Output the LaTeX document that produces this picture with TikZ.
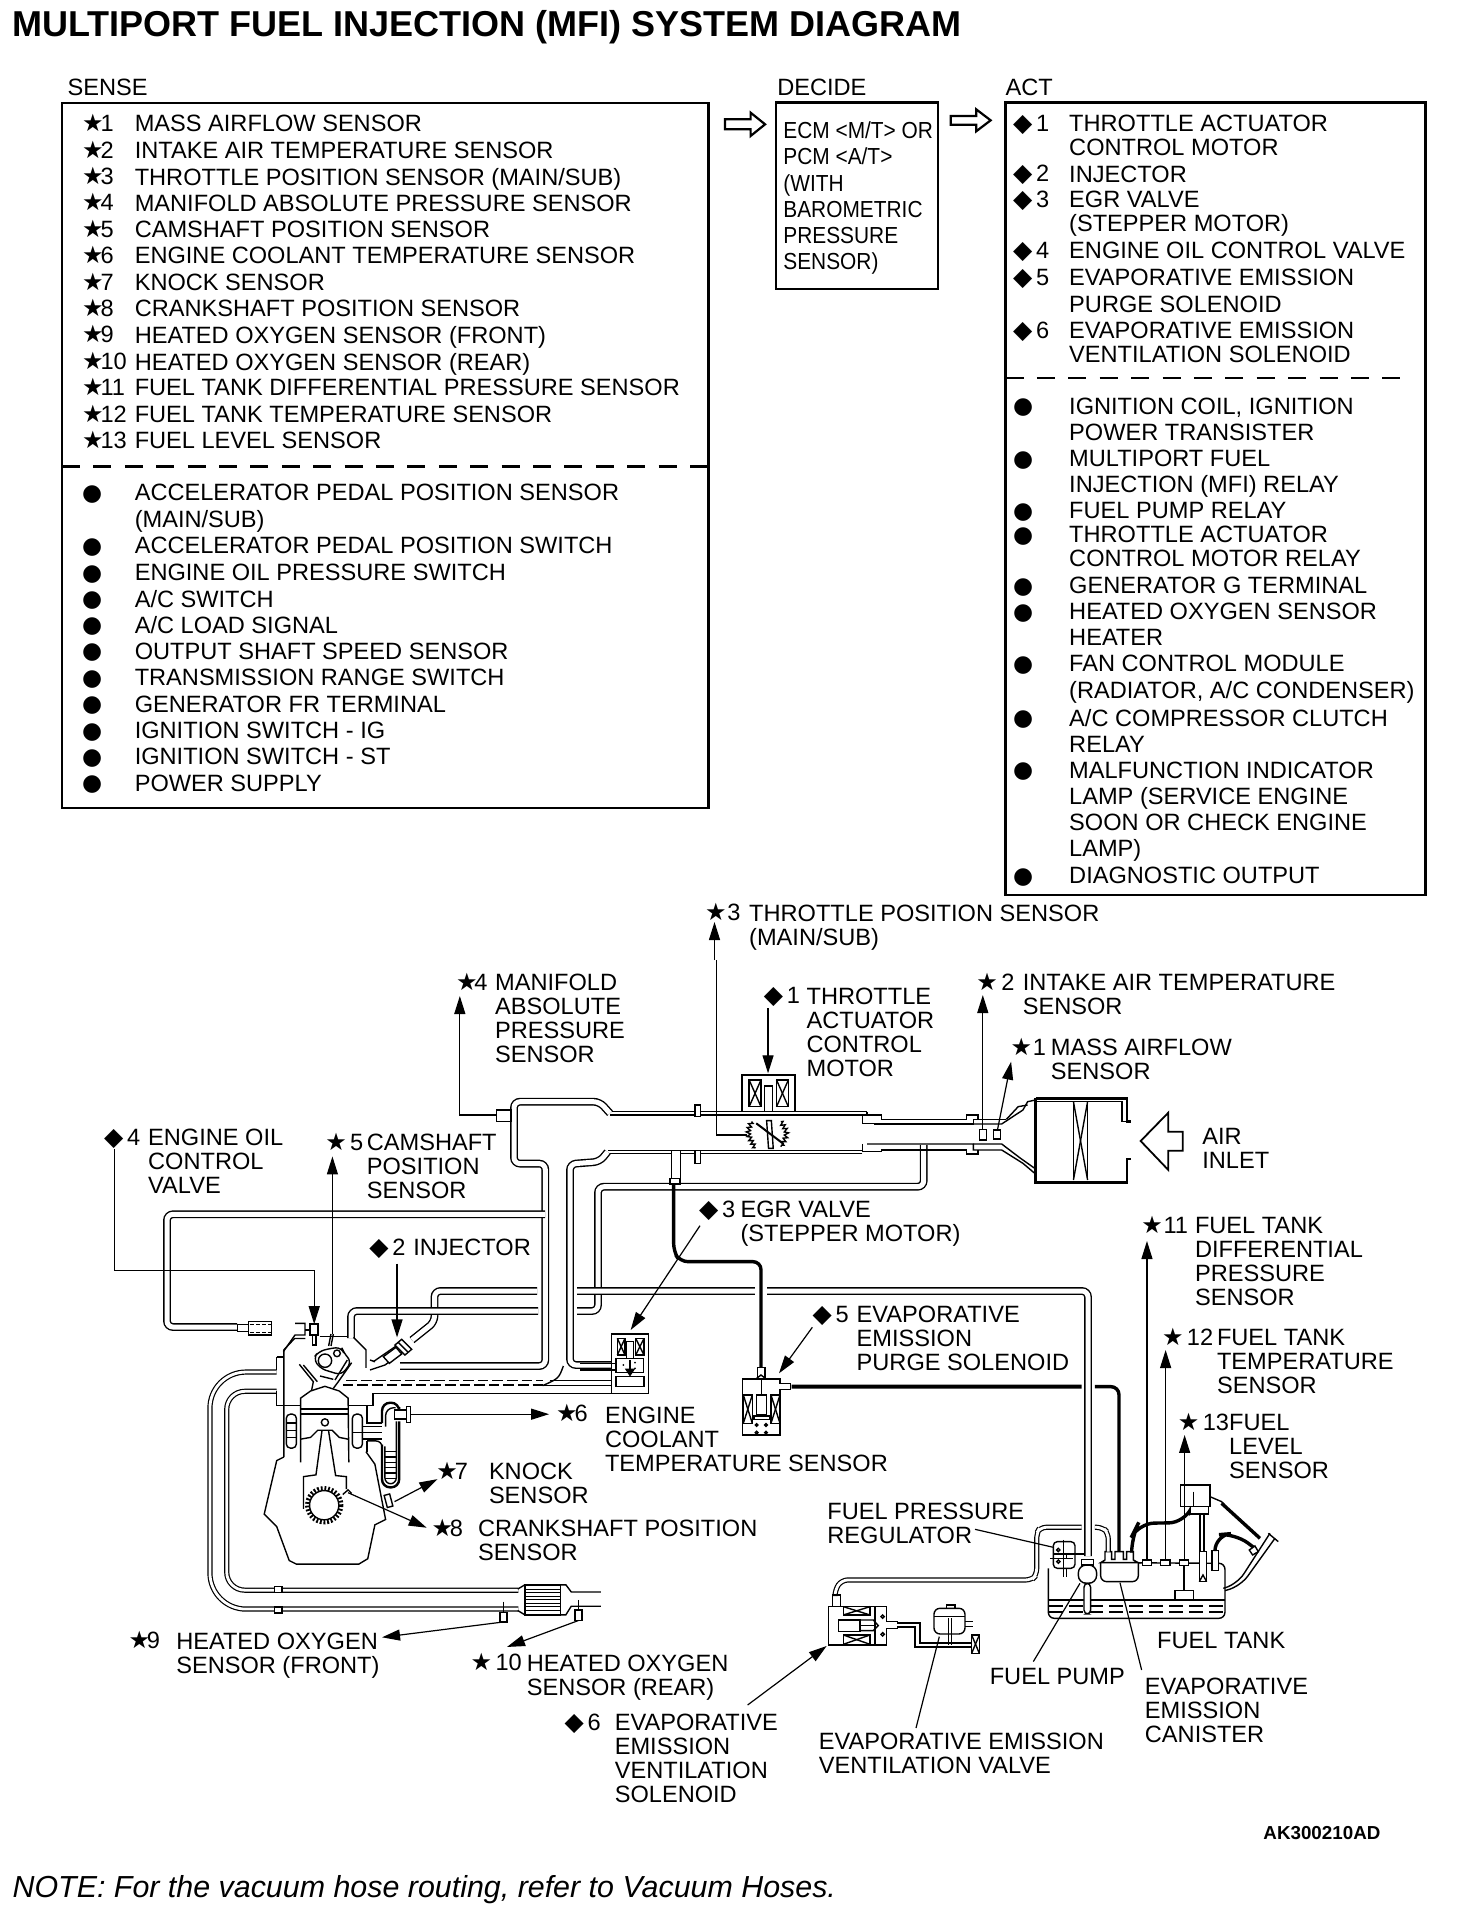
\documentclass[tikz,border=0pt]{standalone}
\usepackage{fontspec}
\setmainfont{Liberation Sans}
\newfontfamily\symfont{DejaVu Sans}
\newfontfamily\condfont[FakeStretch=0.9]{Liberation Sans}
\usetikzlibrary{arrows.meta,decorations.pathmorphing}
\newcommand{\stm}{{\symfont\fontsize{12}{12}\selectfont ★}\kern-1.6pt}
\newcommand{\dmd}{{\symfont\fontsize{12.5}{12.5}\selectfont ◆}\kern-1.4pt}
\newcommand{\blt}{{\symfont\fontsize{11.5}{11.5}\selectfont ●}}
\tikzset{
  lbl/.style={inner sep=0pt,anchor=north west,align=left,font=\fontsize{11.8}{12}\selectfont},
  lst/.style={lbl,font=\fontsize{11.8}{13.1}\selectfont},
  mrk/.style={inner sep=0pt,anchor=west,text height=8.4pt,text depth=0pt,font=\fontsize{11.8}{12}\selectfont},
  frame/.style={line width=1.2pt},
  sepline/.style={line width=1.1pt,dash pattern=on 9pt off 6.7pt},
  wall/.style={line width=.7pt},
  fine/.style={line width=.5pt},
  pipe/.style={double,double distance=2.5pt,line width=.7pt,rounded corners=3pt},
  slim/.style={double,double distance=1.4pt,line width=.6pt},
  hose/.style={line width=1.7pt,rounded corners=4pt},
  ldr/.style={line width=.6pt,-{Triangle[length=9pt,width=5.5pt]}},
  tick/.style={line width=.6pt},
  zoomA/.style={shift={(100,1100)},scale=0.357},
  zoomB/.style={shift={(440,960)},xscale=0.472,yscale=0.3333},
  zoomC/.style={shift={(780,1240)},scale=0.3333},
  zoomD/.style={shift={(700,60)},xscale=0.482,yscale=0.3333},
  zoomE/.style={shift={(580,1180)},scale=0.3333},
  zoomF/.style={shift={(960,1060)},scale=0.3333},
  zoomG/.style={shift={(270,1310)},scale=0.3333}
}
\begin{document}
\begin{tikzpicture}[x=0.5pt,y=-0.5pt]
  \useasboundingbox (0,0) rectangle (1456,1916);

  % boxes
  \coordinate (senseNW) at (62,103);
  \coordinate (senseSE) at (708.5,808);
  \coordinate (decideNW) at (776,102.5);
  \coordinate (decideSE) at (938,289);
  \coordinate (actNW) at (1005.5,102.5);
  \coordinate (actSE) at (1425.5,895);
  \draw[frame] (senseNW) rectangle (senseSE);
  \draw[frame] (decideNW) rectangle (decideSE);
  \draw[frame] (actNW) rectangle (actSE);
  \coordinate (senseL) at (62,466.5);
  \coordinate (senseR) at (708.5,466.5);
  \coordinate (actL) at (1005.5,378);
  \coordinate (actR) at (1412,378);
  \draw[sepline] (senseL) -- (senseR);
  \draw[sepline] (actL) -- (actR);

  \begin{scope}[zoomD]
    \draw[line width=1.1pt] (52,178) -- (105,178) -- (105,158) -- (135,193) -- (105,228) -- (105,208) -- (52,208) -- cycle;
    \draw[line width=1.1pt] (520,168) -- (573,168) -- (573,148) -- (603,181) -- (573,214) -- (573,194) -- (520,194) -- cycle;
  \end{scope}

  % texts of the boxes
  \begin{scope}[scale=1.2215]
    \node[lbl,font=\bfseries\fontsize{18}{20}\selectfont] (title) at (10,8) {MULTIPORT FUEL INJECTION (MFI) SYSTEM DIAGRAM};
    \node[lbl] (hSense) at (55,64) {SENSE};
    \node[lbl] (hDecide) at (636,64) {DECIDE};
    \node[lbl] (hAct) at (823,64) {ACT};

    \node[mrk] (sM1) at (67,101) {\stm1};
    \node[mrk] (sM2) at (67,122.6) {\stm2};
    \node[mrk] (sM3) at (67,144.2) {\stm3};
    \node[mrk] (sM4) at (67,165.8) {\stm4};
    \node[mrk] (sM5) at (67,187.4) {\stm5};
    \node[mrk] (sM6) at (67,209) {\stm6};
    \node[mrk] (sM7) at (67,230.6) {\stm7};
    \node[mrk] (sM8) at (67,252.2) {\stm8};
    \node[mrk] (sM9) at (67,273.8) {\stm9};
    \node[mrk] (sM10) at (67,295.4) {\stm10};
    \node[mrk] (sM11) at (67,317) {\stm11};
    \node[mrk] (sM12) at (67,338.6) {\stm12};
    \node[mrk] (sM13) at (67,360.2) {\stm13};
    \node[lst] (sT1) at (110,94.2) {MASS AIRFLOW SENSOR};
    \node[lst] (sT2) at (110,115.8) {INTAKE AIR TEMPERATURE SENSOR};
    \node[lst] (sT3) at (110,137.4) {THROTTLE POSITION SENSOR (MAIN/SUB)};
    \node[lst] (sT4) at (110,159) {MANIFOLD ABSOLUTE PRESSURE SENSOR};
    \node[lst] (sT5) at (110,180.6) {CAMSHAFT POSITION SENSOR};
    \node[lst] (sT6) at (110,202.2) {ENGINE COOLANT TEMPERATURE SENSOR};
    \node[lst] (sT7) at (110,223.8) {KNOCK SENSOR};
    \node[lst] (sT8) at (110,245.4) {CRANKSHAFT POSITION SENSOR};
    \node[lst] (sT9) at (110,267) {HEATED OXYGEN SENSOR (FRONT)};
    \node[lst] (sT10) at (110,288.6) {HEATED OXYGEN SENSOR (REAR)};
    \node[lst] (sT11) at (110,310.2) {FUEL TANK DIFFERENTIAL PRESSURE SENSOR};
    \node[lst] (sT12) at (110,331.8) {FUEL TANK TEMPERATURE SENSOR};
    \node[lst] (sT13) at (110,353.4) {FUEL LEVEL SENSOR};

    \node[mrk] (sB1) at (67,403) {\blt};
    \node[mrk] (sB2) at (67,446) {\blt};
    \node[mrk] (sB3) at (67,468) {\blt};
    \node[mrk] (sB4) at (67,489.5) {\blt};
    \node[mrk] (sB5) at (67,511) {\blt};
    \node[mrk] (sB6) at (67,532.5) {\blt};
    \node[mrk] (sB7) at (67,554) {\blt};
    \node[mrk] (sB8) at (67,576) {\blt};
    \node[mrk] (sB9) at (67,597.5) {\blt};
    \node[mrk] (sB10) at (67,619) {\blt};
    \node[mrk] (sB11) at (67,640.5) {\blt};
    \node[lst] (sU1) at (110,396.2) {ACCELERATOR PEDAL POSITION SENSOR\\(MAIN/SUB)};
    \node[lst] (sU2) at (110,439.2) {ACCELERATOR PEDAL POSITION SWITCH};
    \node[lst] (sU3) at (110,461.2) {ENGINE OIL PRESSURE SWITCH};
    \node[lst] (sU4) at (110,482.8) {A/C SWITCH};
    \node[lst] (sU5) at (110,504.2) {A/C LOAD SIGNAL};
    \node[lst] (sU6) at (110,525.8) {OUTPUT SHAFT SPEED SENSOR};
    \node[lst] (sU7) at (110,547.2) {TRANSMISSION RANGE SWITCH};
    \node[lst] (sU8) at (110,569.2) {GENERATOR FR TERMINAL};
    \node[lst] (sU9) at (110,590.8) {IGNITION SWITCH - IG};
    \node[lst] (sU10) at (110,612.2) {IGNITION SWITCH - ST};
    \node[lst] (sU11) at (110,633.8) {POWER SUPPLY};

    \node[lbl,font=\condfont\fontsize{11.6}{13.1}\selectfont] (ecm) at (641,99.5) {ECM <M/T> OR\\PCM <A/T>\\(WITH\\BAROMETRIC\\PRESSURE\\SENSOR)};

    \node[mrk] (aM1) at (829,101) {\dmd\ 1};
    \node[mrk] (aM2) at (829,142) {\dmd\ 2};
    \node[mrk] (aM3) at (829,163) {\dmd\ 3};
    \node[mrk] (aM4) at (829,205) {\dmd\ 4};
    \node[mrk] (aM5) at (829,227) {\dmd\ 5};
    \node[mrk] (aM6) at (829,270) {\dmd\ 6};
    \node[lbl] (aT1) at (875,94.2) {THROTTLE ACTUATOR\\CONTROL MOTOR};
    \node[lbl] (aT2) at (875,135.2) {INJECTOR};
    \node[lbl] (aT3) at (875,156.2) {EGR VALVE\\(STEPPER MOTOR)};
    \node[lbl] (aT4) at (875,198.2) {ENGINE OIL CONTROL VALVE};
    \node[lst] (aT5) at (875,220.2) {EVAPORATIVE EMISSION\\PURGE SOLENOID};
    \node[lbl] (aT6) at (875,263.2) {EVAPORATIVE EMISSION\\VENTILATION SOLENOID};

    \node[mrk] (aB1) at (829,332) {\blt};
    \node[mrk] (aB2) at (829,375) {\blt};
    \node[mrk] (aB3) at (829,418) {\blt};
    \node[mrk] (aB4) at (829,437) {\blt};
    \node[mrk] (aB5) at (829,479) {\blt};
    \node[mrk] (aB6) at (829,500) {\blt};
    \node[mrk] (aB7) at (829,543) {\blt};
    \node[mrk] (aB8) at (829,587) {\blt};
    \node[mrk] (aB9) at (829,630) {\blt};
    \node[mrk] (aB10) at (829,716) {\blt};
    \node[lst] (aU1) at (875,325.2) {IGNITION COIL, IGNITION\\POWER TRANSISTER};
    \node[lst] (aU2) at (875,368.2) {MULTIPORT FUEL\\INJECTION (MFI) RELAY};
    \node[lst] (aU3) at (875,411.2) {FUEL PUMP RELAY};
    \node[lbl] (aU4) at (875,430.2) {THROTTLE ACTUATOR\\CONTROL MOTOR RELAY};
    \node[lst] (aU5) at (875,472.2) {GENERATOR G TERMINAL};
    \node[lst] (aU6) at (875,493.2) {HEATED OXYGEN SENSOR\\HEATER};
    \node[lst] (aU7) at (875,536.2) {FAN CONTROL MODULE\\(RADIATOR, A/C CONDENSER)};
    \node[lst] (aU8) at (875,580.2) {A/C COMPRESSOR CLUTCH\\RELAY};
    \node[lst] (aU9) at (875,623.2) {MALFUNCTION INDICATOR\\LAMP (SERVICE ENGINE\\SOON OR CHECK ENGINE\\LAMP)};
    \node[lst] (aU10) at (875,709.2) {DIAGNOSTIC OUTPUT};

    % texts of the diagram
    \node[mrk] (m3) at (577,747) {\stm\,3};
    \node[lbl] (tTps) at (613,740.2) {THROTTLE POSITION SENSOR\\(MAIN/SUB)};
    \node[mrk] (m4) at (373,804) {\stm4};
    \node[lbl] (tMap) at (405,797.2) {MANIFOLD\\ABSOLUTE\\PRESSURE\\SENSOR};
    \node[mrk] (d1) at (625,815) {\dmd\ 1};
    \node[lbl] (tMotor) at (660,808.2) {THROTTLE\\ACTUATOR\\CONTROL\\MOTOR};
    \node[mrk] (m2) at (799,804) {\stm\ 2};
    \node[lbl] (tIat) at (837,797.2) {INTAKE AIR TEMPERATURE\\SENSOR};
    \node[mrk] (m1) at (827,857) {\stm\,1};
    \node[lbl] (tMaf) at (860,850.2) {MASS AIRFLOW\\SENSOR};
    \node[lbl] (tAir) at (984,923.2) {AIR\\INLET};
    \node[mrk] (d4) at (85,931) {\dmd\ 4};
    \node[lbl] (tOcv) at (121,924.2) {ENGINE OIL\\CONTROL\\VALVE};
    \node[mrk] (m5) at (266,935) {\stm\ 5};
    \node[lbl] (tCam) at (300,928.2) {CAMSHAFT\\POSITION\\SENSOR};
    \node[mrk] (d3) at (572,990) {\dmd\ 3};
    \node[lbl] (tEgr) at (606,983.2) {EGR VALVE\\(STEPPER MOTOR)};
    \node[mrk] (d2) at (302,1021) {\dmd\ 2};
    \node[lbl] (tInj) at (338,1014.2) {INJECTOR};
    \node[mrk] (m11) at (934,1003) {\stm\,11};
    \node[lbl] (tDiff) at (978,996.2) {FUEL TANK\\DIFFERENTIAL\\PRESSURE\\SENSOR};
    \node[mrk] (m12) at (951,1095) {\stm\ 12};
    \node[lbl] (tTemp) at (996,1088.2) {FUEL TANK\\TEMPERATURE\\SENSOR};
    \node[mrk] (m13) at (964,1164) {\stm\ 13};
    \node[lbl] (tLevel) at (1006,1157.2) {FUEL\\LEVEL\\SENSOR};
    \node[mrk] (d5) at (665,1076) {\dmd\ 5};
    \node[lbl] (tPurge) at (701,1069.2) {EVAPORATIVE\\EMISSION\\PURGE SOLENOID};
    \node[mrk] (m6) at (455,1157) {\stm6};
    \node[lbl] (tEct) at (495,1151.2) {ENGINE\\COOLANT\\TEMPERATURE SENSOR};
    \node[mrk] (m7) at (357,1204) {\stm7};
    \node[lbl] (tKnock) at (400,1197.2) {KNOCK\\SENSOR};
    \node[mrk] (m8) at (353,1251) {\stm8};
    \node[lbl] (tCkp) at (391,1244.2) {CRANKSHAFT POSITION\\SENSOR};
    \node[mrk] (m9) at (105,1343) {\stm9};
    \node[lbl] (tHoF) at (144,1336.2) {HEATED OXYGEN\\SENSOR (FRONT)};
    \node[mrk] (m10) at (385,1361) {\stm\ 10};
    \node[lbl] (tHoR) at (431,1354.2) {HEATED OXYGEN\\SENSOR (REAR)};
    \node[mrk] (d6) at (462,1410) {\dmd\ 6};
    \node[lbl] (tVent) at (503,1403.2) {EVAPORATIVE\\EMISSION\\VENTILATION\\SOLENOID};
    \node[lbl] (tReg) at (677,1230.2) {FUEL PRESSURE\\REGULATOR};
    \node[lbl] (tPump) at (810,1365.2) {FUEL PUMP};
    \node[lbl] (tTank) at (947,1336.2) {FUEL TANK};
    \node[lbl] (tCan) at (937,1373.2) {EVAPORATIVE\\EMISSION\\CANISTER};
    \node[lbl] (tValve) at (670,1418.2) {EVAPORATIVE EMISSION\\VENTILATION VALVE};
    \node[lbl,font=\bfseries\fontsize{9.4}{10}\selectfont] (code) at (1034,1495) {AK300210AD};
    \node[lbl,font=\itshape\fontsize{15.2}{16}\selectfont] (note) at (10,1535) {NOTE: For the vacuum hose routing, refer to Vacuum Hoses.};
  \end{scope}

  % hoses of the intake side
  \draw[pipe] (923.7,1145) -- (923.7,1186.7) -- (598,1186.7) -- (598,1311) -- (577,1311);
  \draw[slim,double distance=1pt] (867,1113.3) -- (610,1113.3);
  \draw[pipe] (610,1113.3) -- (599.5,1101.7) -- (514,1101.7) -- (514,1163.6) -- (545.3,1163.6) -- (545.3,1366) -- (400,1366);
  \draw[slim,double distance=1pt] (862.4,1152) -- (607.5,1152);
  \draw[pipe] (607.5,1152) -- (599.5,1161.7) -- (570,1164) -- (570,1365) -- (612,1365);
  \draw[pipe] (537,1291) -- (434.5,1291) -- (434.5,1322) -- (412,1340);
  \draw[pipe] (538,1311) -- (351,1311) -- (351,1338);
  \draw[pipe] (545,1214.3) -- (167,1214.3) -- (167,1327) -- (237,1327);
  \draw[pipe] (577,1291) -- (1088,1291) -- (1088,1556);

  % intake
  \begin{scope}[zoomB]
    \draw[wall,fill=white] (120,450) rectangle (150,485);
    \draw[wall] (905,455) -- (905,465) -- (935,465) -- (935,478) -- (1115,478) -- (1115,465) -- (1140,465) -- (1140,478);
    \draw[wall] (895,465) -- (895,490) -- (920,490) -- (920,492) -- (1130,492) -- (1130,478) -- (1200,478);
    \draw[wall] (1130,492) -- (1190,492) -- (1235,450) -- (1245,425) -- (1262,420);
    \draw[wall] (1200,478) -- (1225,440) -- (1245,435);
    \draw[wall] (895,552) -- (895,575) -- (935,575) -- (935,570) -- (1115,570) -- (1115,582) -- (1140,582) -- (1140,570);
    \draw[wall] (905,552) -- (920,552) -- (1130,552) -- (1130,570) -- (1190,570) -- (1235,610) -- (1260,640);
    \draw[wall] (1130,552) -- (1190,552) -- (1230,595) -- (1260,625);
    \draw[wall,fill=white] (540,435) rectangle (552,470);
    \draw[wall,fill=white] (540,572) rectangle (552,610);
    \draw[frame] (1262,415) -- (1455,415) -- (1455,485) -- (1465,485);
    \draw[wall] (1262,425) -- (1445,425) -- (1445,485) -- (1465,485);
    \draw[frame] (1262,415) -- (1262,668) -- (1455,668) -- (1455,597) -- (1465,597);
    \draw[wall] (1342,425) -- (1342,660);
    \draw[wall] (1372,425) -- (1372,660);
    \draw[wall] (1342,425) -- (1372,660);
    \draw[wall] (1372,425) -- (1342,660);
    \draw[wall,fill=white] (640,345) rectangle (752,455);
    \draw[wall] (655,360) rectangle (680,440);
    \draw[wall] (655,360) -- (680,440);
    \draw[wall] (680,360) -- (655,440);
    \draw[wall] (713,360) rectangle (738,440);
    \draw[wall] (713,360) -- (738,440);
    \draw[wall] (738,360) -- (713,440);
    \draw[wall] (688,378) rectangle (705,455);
    \draw[wall,decorate,decoration={zigzag,segment length=2pt,amplitude=1pt}] (660,485) .. controls (650,520) .. (668,565);
    \draw[wall,decorate,decoration={zigzag,segment length=2pt,amplitude=1pt}] (722,485) .. controls (738,520) .. (722,560);
    \draw[wall,fill=white] (692,482) -- (702,482) -- (706,565) -- (696,565) -- cycle;
    \draw[line width=1pt] (670,490) -- (728,552);
    \draw[wall] (1143,508) rectangle (1158,540);
    \draw[wall] (1173,510) rectangle (1187,537);
    \draw[wall,fill=white] (490,572) rectangle (510,672);
    \coordinate (mapA) at (120,465);
    \coordinate (mapB) at (42,465);
    \coordinate (mapC) at (42,108);
    \coordinate (tpsA) at (650,525);
    \coordinate (tpsB) at (585,525);
    \coordinate (tpsC) at (585,0);
    \coordinate (tacA) at (695,145);
    \coordinate (tacB) at (695,340);
    \coordinate (iatA) at (1150,508);
    \coordinate (iatB) at (1150,105);
    \coordinate (mafA) at (1181,510);
    \coordinate (mafB) at (1210,305);
    \draw[ldr] (mapA) -- (mapB) -- (mapC);
    \draw[line width=.6pt] (tpsA) -- (tpsB) -- (tpsC);
    \draw[ldr] (tacA) -- (tacB);
    \draw[ldr] (iatA) -- (iatB);
    \draw[ldr] (mafA) -- (mafB);
  \end{scope}
  \coordinate (tpsD) at (714.5,922);
  \coordinate (tpsE) at (714.5,960);
  \draw[ldr] (tpsE) -- (tpsD);

  \begin{scope}[zoomF]
    \draw[line width=.9pt] (542,243) -- (625,158) -- (625,215) -- (668,215) -- (668,272) -- (625,272) -- (625,330) -- cycle;
  \end{scope}

  % engine
  \begin{scope}[zoomA]
    \draw[slim,rounded corners=18pt] (495,762) -- (308,762) -- (308,1426) -- (1172,1426);
    \draw[slim,rounded corners=9pt] (495,816) -- (355,816) -- (355,1373) -- (1172,1373);
    \draw[wall,fill=white] (488,1362) rectangle (510,1380);
    \draw[wall,fill=white] (488,1420) rectangle (510,1437);
    \draw[wall] (1170,1370) -- (1190,1358) -- (1305,1358) -- (1320,1378) -- (1403,1378);
    \draw[wall] (1170,1430) -- (1190,1442) -- (1305,1442) -- (1320,1418) -- (1403,1418);
    \draw[wall] (1190,1358) rectangle (1290,1442);
    \draw[fine] (1192,1370) -- (1288,1370);
    \draw[fine] (1192,1380) -- (1288,1380);
    \draw[fine] (1192,1390) -- (1288,1390);
    \draw[fine] (1192,1400) -- (1288,1400);
    \draw[fine] (1192,1410) -- (1288,1410);
    \draw[fine] (1192,1420) -- (1288,1420);
    \draw[fine] (1192,1430) -- (1288,1430);
    \draw[wall,fill=white] (1120,1435) rectangle (1140,1462);
    \draw[wall] (1130,1405) -- (1130,1435);
    \draw[wall,fill=white] (1330,1428) rectangle (1350,1458);
    \draw[wall] (1340,1400) -- (1340,1428);
    \draw[wall,fill=white] (385,628) rectangle (416,648);
    \draw[wall,fill=white] (416,620) rectangle (480,658);
    \draw[fine,dash pattern=on 2pt off 1pt] (420,628) -- (478,628);
    \draw[fine,dash pattern=on 2pt off 1pt] (420,650) -- (478,650);
    % block
    \draw[wall] (515,1000) -- (495,1010) -- (460,1160) -- (495,1195) -- (530,1290) -- (550,1300) -- (725,1300) -- (750,1285) -- (770,1190) -- (800,1175) -- (770,1020) -- (745,985);
    \draw[wall] (515,1000) -- (515,700) -- (545,668) -- (575,668);
    \draw[wall] (495,720) -- (515,720);
    \draw[wall] (495,720) -- (495,755);
    \draw[wall] (495,816) -- (495,855) -- (560,855);
    \draw[wall] (695,855) -- (765,855) -- (765,822) -- (1432,822);
    \draw[wall] (615,663) -- (695,663);
    \draw[wall] (710,665) -- (745,700) -- (745,750);
    \draw[wall] (748,855) -- (748,905) -- (790,905);
    % piston and rod
    \draw[wall] (562,1015) -- (562,835) -- (590,815) -- (630,802) -- (670,815) -- (695,835) -- (697,1015);
    \draw[wall] (562,866) -- (695,866);
    \draw[wall] (562,880) -- (695,880);
    \draw[wall] (562,950) -- (590,945) -- (610,925) -- (650,925) -- (670,945) -- (695,950);
    \draw[wall] (630,903) circle (10);
    \draw[wall] (622,925) -- (605,1050) -- (570,1055) -- (570,1145);
    \draw[wall] (640,925) -- (660,1052) -- (690,1055) -- (690,1090);
    \draw[line width=2.4pt,dash pattern=on .9pt off .9pt] (628,1135) circle (47);
    \draw[wall,fill=white] (628,1135) circle (41);
    \draw[wall] (680,1105) -- (695,1092) -- (705,1102);
    % water jackets
    \draw[wall,rounded corners=2pt] (522,880) rectangle (550,975);
    \draw[wall] (522,905) -- (550,905);
    \draw[wall] (522,925) -- (550,925);
    \draw[wall] (522,945) -- (550,945);
    \draw[wall,rounded corners=2pt] (707,880) rectangle (735,975);
    \draw[wall] (735,915) -- (790,915);
    \draw[wall] (707,932) -- (790,932);
    \draw[wall] (735,950) -- (790,950);
    % coolant housing
    \draw[frame,rounded corners=4pt] (790,905) -- (790,848) -- (838,848) -- (838,860);
    \draw[wall,rounded corners=4pt] (800,915) -- (800,862) -- (828,862);
    \draw[wall,fill=white] (825,868) rectangle (860,893);
    \draw[wall,fill=white] (858,858) rectangle (870,903);
    \draw[frame,rounded corners=4pt] (790,965) -- (790,1085) -- (838,1085) -- (838,900);
    \draw[wall,rounded corners=3pt] (798,970) -- (798,1075) -- (830,1075) -- (830,900);
    \draw[wall] (798,985) -- (830,985);
    \draw[wall] (798,1000) -- (830,1000);
    \draw[wall] (798,1015) -- (830,1015);
    \draw[wall] (798,1030) -- (830,1030);
    \draw[wall] (798,1045) -- (830,1045);
    \draw[wall] (798,1060) -- (830,1060);
    \draw[wall] (748,955) -- (748,985);
    \draw[wall,rounded corners=3pt] (748,955) -- (790,955) -- (790,970);
    \draw[wall,fill=white,rotate around={15:(808,1122)}] (800,1105) rectangle (816,1140);
    % exhaust ports and dashed passage
    \draw[wall,dash pattern=on 5.3pt off 2pt] (690,786) -- (1240,786);
    \draw[wall,dash pattern=on 5.3pt off 2pt] (680,798) -- (1240,798);
    \draw[wall] (1260,785) -- (1432,785);
    \draw[wall] (1240,800) -- (1432,800);
    \draw[wall] (1298,745) .. controls (1285,780) .. (1240,800);
    \coordinate (ocvA) at (40,138);
    \coordinate (ocvB) at (40,477);
    \coordinate (ocvC) at (600,477);
    \coordinate (ocvD) at (600,628);
    \coordinate (camA) at (651,655);
    \coordinate (camB) at (651,158);
    \coordinate (injA) at (832,458);
    \coordinate (injB) at (832,665);
    \coordinate (ectA) at (870,880);
    \coordinate (ectB) at (1258,880);
    \coordinate (ksA) at (825,1125);
    \coordinate (ksB) at (945,1062);
    \coordinate (ckpA) at (695,1100);
    \coordinate (ckpB) at (915,1198);
    \coordinate (hoA) at (1130,1462);
    \coordinate (hoB) at (790,1505);
    \coordinate (hrA) at (1340,1458);
    \coordinate (hrB) at (1140,1532);
    \draw[ldr] (ocvA) -- (ocvB) -- (ocvC) -- (ocvD);
    \draw[ldr] (camA) -- (camB);
    \draw[ldr] (injA) -- (injB);
    \draw[ldr] (ectA) -- (ectB);
    \draw[ldr] (ksA) -- (ksB);
    \draw[ldr] (ckpA) -- (ckpB);
    \draw[ldr] (hoA) -- (hoB);
    \draw[ldr] (hrA) -- (hrB);
  \end{scope}

  % head details
  \begin{scope}[zoomG]
    \draw[wall] (75,40) -- (105,40) -- (105,75) -- (75,75) -- (40,125);
    \draw[wall] (105,60) -- (120,60);
    \draw[line width=1pt,fill=white] (120,42) rectangle (145,75);
    \draw[wall] (128,75) rectangle (138,105);
    \draw[wall] (183,72) -- (176,108);
    \draw[wall] (190,72) -- (183,108);
    \draw[wall,rounded corners=3pt,fill=white] (130,145) -- (145,125) -- (180,115) -- (215,112) -- (222,130) -- (245,155) -- (215,195) -- (180,185) -- (150,175) -- cycle;
    \draw[wall,fill=white] (165,152) circle (20);
    \draw[wall] (201,130) circle (10);
    \draw[wall] (88,163) -- (130,215) -- (125,240);
    \draw[wall] (100,165) -- (142,215);
    \draw[wall] (245,158) -- (205,215) -- (190,235);
    \draw[wall] (232,150) -- (195,210);
    \draw[wall] (150,198) -- (190,208);
    % injector
    \draw[wall] (310,155) -- (390,100);
    \draw[wall] (345,165) -- (412,115);
    \draw[wall,fill=white] (340,140) -- (378,112) -- (395,132) -- (358,160) -- cycle;
    \draw[wall,fill=white] (375,105) -- (395,88) -- (425,118) -- (405,135) -- cycle;
    \draw[wall] (385,97) -- (415,127);
    \draw[wall] (300,150) -- (315,155);
    \draw[wall] (300,180) -- (345,165);
  \end{scope}

  % EGR valve and purge solenoid
  \begin{scope}[zoomE]
    \draw[wall,fill=white] (95,462) rectangle (205,640);
    \draw[wall] (112,475) rectangle (135,525);
    \draw[wall] (112,475) -- (135,525);
    \draw[wall] (135,475) -- (112,525);
    \draw[wall] (167,475) rectangle (192,525);
    \draw[wall] (167,475) -- (192,525);
    \draw[wall] (192,475) -- (167,525);
    \draw[wall] (140,485) rectangle (160,535);
    \draw[wall] (108,535) rectangle (190,578);
    \draw[wall] (108,590) rectangle (192,620);
    \draw[wall,-{Triangle[length=4pt,width=5pt]}] (150,540) -- (150,590);
    \draw[wall] (0,550) -- (108,550);
    \draw[wall] (0,570) -- (108,570);
    \fill (165,548) circle (3);
    \fill (165,565) circle (3);
    \fill (130,555) circle (3);
    \draw[wall] (487,597) -- (600,597) -- (600,610) -- (632,610) -- (632,628) -- (600,628) -- (600,765) -- (487,765) -- cycle;
    \draw[wall] (532,562) rectangle (555,597);
    \draw[wall] (530,595) -- (543,585) -- (556,595);
    \draw[wall] (545,597) -- (545,645);
    \draw[wall] (490,645) rectangle (517,730);
    \draw[wall] (490,645) -- (517,730);
    \draw[wall] (517,645) -- (490,730);
    \draw[wall] (573,645) rectangle (600,730);
    \draw[wall] (573,645) -- (600,730);
    \draw[wall] (600,645) -- (573,730);
    \draw[wall] (530,645) rectangle (560,705);
    \draw[wall] (522,708) rectangle (570,718);
    \draw[wall] (530,735) circle (4);
    \draw[wall] (558,735) circle (4);
    \draw[wall] (530,758) circle (4);
    \draw[wall] (558,758) circle (4);
    \draw[wall,fill=white] (270,-5) rectangle (300,12);
    \draw[white,line width=6pt] (543,320) -- (543,350);
    \coordinate (egrA) at (281,12);
    \coordinate (egrB) at (281,215);
    \coordinate (egrC) at (300,245);
    \coordinate (egrD) at (543,245);
    \coordinate (egrE) at (543,562);
    \draw[hose] (egrA) -- (egrB) -- (egrC) -- (egrD) -- (egrE);
    \coordinate (purgeA) at (635,620);
    \coordinate (dEgrA) at (360,137);
    \coordinate (dEgrB) at (152,450);
    \coordinate (dPurA) at (697,442);
    \coordinate (dPurB) at (597,580);
    \draw[ldr] (dEgrA) -- (dEgrB);
    \draw[ldr] (dPurA) -- (dPurB);
  \end{scope}
  \coordinate (purgeB) at (1081.5,1386.7);
  \draw[line width=2pt] (purgeA) -- (purgeB);

  % fuel side
  \begin{scope}[zoomC]
    \draw[wall,rounded corners=3pt] (805,985) -- (805,1135) -- (1335,1135) -- (1335,970) -- (965,968);
    \draw[wall] (805,1080) -- (1335,1080);
    \draw[wall,dash pattern=on 7pt off 3pt] (808,1098) -- (1335,1098);
    \draw[wall,dash pattern=on 7pt off 3pt] (808,1116) -- (1335,1116);
    \draw[wall,rounded corners=3pt,fill=white] (962,968) -- (962,1025) -- (1075,1025) -- (1075,968);
    \draw[wall,fill=white] (975,935) -- (975,960) -- (962,968) -- (1075,968) -- (1060,960) -- (1060,935) -- (1040,935) -- (1040,958) -- (1030,958) -- (1030,935) -- (1005,935) -- (1005,958) -- (995,958) -- (995,935) -- cycle;
    \draw[wall,fill=white,rounded corners=4pt] (895,975) rectangle (950,1030);
    \draw[wall,fill=white] (905,958) rectangle (940,975);
    \draw[wall,fill=white,rounded corners=2pt] (912,1030) rectangle (932,1122);
    \draw[wall,fill=white] (1185,1052) rectangle (1240,1080);
    \draw[wall] (1212,977) -- (1212,1052);
    \draw[wall,fill=white] (1087,960) rectangle (1115,977);
    \draw[wall,fill=white] (1142,960) rectangle (1170,977);
    \draw[wall,fill=white] (1198,960) rectangle (1226,977);
    % regulator
    \draw[wall,rounded corners=2pt,fill=white] (820,905) rectangle (885,985);
    \draw[wall] (850,900) -- (850,1010);
    \draw[wall] (860,985) -- (860,1010);
    \draw[wall] (820,942) -- (860,942) -- (860,955);
    \draw[wall] (810,955) -- (880,955);
    \draw[wall] (835,930) circle (5);
    \draw[wall] (835,965) circle (5);
    % hoses
    \draw[slim,rounded corners=3pt] (985,935) -- (985,880) -- (968,862) -- (945,862);
    \draw[slim,rounded corners=3pt] (905,862) -- (780,862) -- (770,880) -- (770,1005) -- (755,1020) -- (185,1020) -- (165,1050) -- (165,1065);
    \draw[line width=1.3pt] (860,942) -- (912,942);
    \draw[hose,rounded corners=4pt] (945,440) -- (1017,440) -- (1017,935);
    \draw[hose,rounded corners=8pt] (1055,935) -- (1055,890) -- (1075,850) -- (1215,848) -- (1225,825);
    % filler
    \draw[wall,fill=white] (1202,735) -- (1290,735) -- (1290,800) -- (1202,800) -- cycle;
    \draw[wall] (1240,755) -- (1240,800);
    \draw[wall,fill=white] (1232,800) rectangle (1285,822);
    \draw[wall] (1260,822) -- (1260,935);
    \draw[wall] (1272,822) -- (1272,935);
    \draw[wall,fill=white] (1258,935) rectangle (1280,1025);
    \draw[wall] (1258,1025) -- (1269,1005) -- (1280,1025);
    \draw[wall,fill=white] (1296,932) rectangle (1315,992);
    \draw[hose,rounded corners=8pt] (1305,932) -- (1305,885) -- (1365,880) -- (1425,925);
    \draw[hose,rounded corners=3pt] (1325,790) -- (1440,895);
    \draw[wall] (1290,770) -- (1325,785) -- (1335,795);
    \draw[wall,rounded corners=6pt] (1330,1045) -- (1372,1032) -- (1470,880);
    \draw[wall,rounded corners=6pt] (1335,1052) -- (1382,1038) -- (1485,895);
    \draw[wall] (1465,880) -- (1495,905);
    \draw[wall,fill=white] (1408,930) -- (1418,945) -- (1435,935) -- (1425,918) -- cycle;
    % solenoid
    \draw[wall] (158,1100) -- (158,1065) -- (182,1065) -- (182,1100);
    \draw[wall] (145,1100) -- (320,1100) -- (320,1145) -- (352,1145) -- (352,1165) -- (320,1165) -- (320,1215) -- (145,1215) -- cycle;
    \draw[wall] (190,1100) rectangle (270,1125);
    \draw[wall] (190,1100) -- (270,1125);
    \draw[wall] (190,1125) -- (270,1100);
    \draw[wall] (190,1185) rectangle (270,1213);
    \draw[wall] (190,1185) -- (270,1213);
    \draw[wall] (190,1213) -- (270,1185);
    \draw[wall] (175,1140) rectangle (240,1175);
    \draw[wall] (240,1140) -- (280,1140) -- (295,1157) -- (280,1172) -- (240,1172);
    \draw[wall] (240,1157) -- (285,1157);
    \draw[wall] (285,1100) -- (285,1215);
    \draw[wall] (308,1130) circle (5);
    \draw[wall] (308,1183) circle (5);
    \draw[slim,line width=.9pt] (352,1155) -- (412,1155) -- (412,1215) -- (590,1215);
    \draw[wall,fill=white,rounded corners=3pt] (462,1105) rectangle (555,1182);
    \draw[wall] (500,1095) -- (525,1095) -- (525,1105) -- (500,1105) -- cycle;
    \draw[wall] (462,1130) -- (555,1130);
    \draw[wall] (505,1135) -- (505,1215);
    \draw[wall] (515,1135) -- (515,1215);
    \draw[wall] (555,1145) -- (580,1145);
    \draw[wall] (555,1160) -- (580,1160);
    \draw[wall,fill=white] (575,1185) rectangle (598,1240);
    \draw[wall] (575,1185) -- (598,1240);
    \draw[wall] (598,1185) -- (575,1240);
    \coordinate (m11A) at (1101,960);
    \coordinate (m11B) at (1101,3);
    \coordinate (m12A) at (1157,960);
    \coordinate (m12B) at (1157,330);
    \coordinate (m13A) at (1214,960);
    \coordinate (m13B) at (1214,585);
    \coordinate (regA) at (585,868);
    \coordinate (regB) at (820,922);
    \coordinate (pmpA) at (760,1265);
    \coordinate (pmpB) at (900,1030);
    \coordinate (canA) at (1085,1290);
    \coordinate (canB) at (1020,1028);
    \coordinate (vvB) at (478,1190);
    \coordinate (vsB) at (140,1218);
    \draw[ldr] (m11A) -- (m11B);
    \draw[ldr] (m12A) -- (m12B);
    \draw[ldr] (m13A) -- (m13B);
    \draw[tick] (regA) -- (regB);
    \draw[tick] (pmpA) -- (pmpB);
    \draw[tick] (canA) -- (canB);
  \end{scope}
  \coordinate (vvC) at (916,1728);
  \coordinate (vsA) at (747.6,1705);
  \draw[tick] (vvC) -- (vvB);
  \draw[ldr] (vsA) -- (vsB);
\end{tikzpicture}
\end{document}
